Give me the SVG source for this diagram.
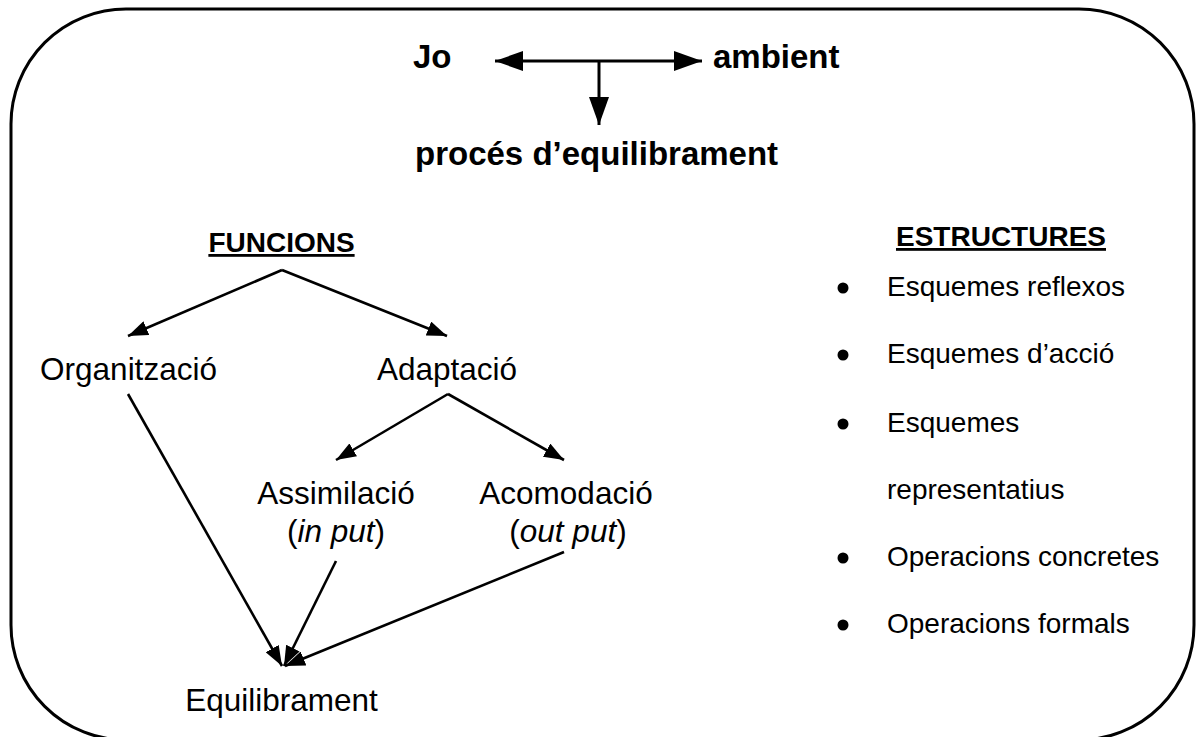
<svg xmlns="http://www.w3.org/2000/svg" width="1196" height="737" viewBox="0 0 1196 737">
<style>
.b{font-family:"Liberation Sans",Arial,sans-serif;font-weight:bold;fill:#000}
.r{font-family:"Liberation Sans",Arial,sans-serif;fill:#000}
.c{stroke:#000;fill:none}
</style>
<defs>
<marker id="big" markerUnits="userSpaceOnUse" viewBox="0 0 28 20" markerWidth="28" markerHeight="20" refX="28" refY="10" orient="auto">
<path d="M0,0 L28,10 L0,20 Z" fill="#000"/>
</marker>
<marker id="sm" markerUnits="userSpaceOnUse" viewBox="0 0 20 15" markerWidth="20" markerHeight="15" refX="20" refY="7.5" orient="auto">
<path d="M0,0 L20,7.5 L0,15 Z" fill="#000"/>
</marker>
</defs>
<rect width="1196" height="737" fill="#fff"/>
<rect id="frame" x="11" y="9" width="1183" height="731" rx="115" ry="115" fill="none" stroke="#000" stroke-width="3"/>
<g id="jo"><text class="b" x="413" y="68" font-size="33">Jo</text></g>
<g id="ambient"><text class="b" x="713" y="68" font-size="33">ambient</text></g>
<g id="proces"><text class="b" x="415" y="165" font-size="33">procés d’equilibrament</text></g>
<g id="funcions"><text class="b" x="281.5" y="252" font-size="28" text-anchor="middle" text-decoration="underline">FUNCIONS</text></g>
<g id="organitzacio"><text class="r" x="128.5" y="380" font-size="31.5" text-anchor="middle">Organització</text></g>
<g id="adaptacio"><text class="r" x="447" y="380" font-size="31.5" text-anchor="middle">Adaptació</text></g>
<g id="assimilacio"><text class="r" x="336" y="504" font-size="31.5" text-anchor="middle">Assimilació</text><text class="r" x="336" y="542" font-size="31.5" text-anchor="middle">(<tspan font-style="italic">in put</tspan>)</text></g>
<g id="acomodacio"><text class="r" x="566" y="504" font-size="31.5" text-anchor="middle">Acomodació</text><text class="r" x="568" y="542" font-size="31.5" text-anchor="middle">(<tspan font-style="italic">out put</tspan>)</text></g>
<g id="equilibrament"><text class="r" x="281.5" y="711" font-size="31.5" text-anchor="middle">Equilibrament</text></g>
<g id="estructures">
<text class="b" x="1001" y="246" font-size="28" text-anchor="middle" text-decoration="underline">ESTRUCTURES</text>
<circle cx="843" cy="288" r="5.5"/><text class="r" x="887" y="296" font-size="28">Esquemes reflexos</text>
<circle cx="843" cy="355" r="5.5"/><text class="r" x="887" y="363" font-size="28">Esquemes d’acció</text>
<circle cx="843" cy="424" r="5.5"/><text class="r" x="887" y="432" font-size="28">Esquemes</text>
<text class="r" x="887" y="499" font-size="28">representatius</text>
<circle cx="843" cy="558" r="5.5"/><text class="r" x="887" y="566" font-size="28">Operacions concretes</text>
<circle cx="843" cy="625" r="5.5"/><text class="r" x="887" y="633" font-size="28">Operacions formals</text>
</g>
<g id="connectors">
<line class="c" x1="599" y1="61" x2="495" y2="61" stroke-width="3" marker-end="url(#big)"/>
<line class="c" x1="599" y1="61" x2="702" y2="61" stroke-width="3" marker-end="url(#big)"/>
<line class="c" x1="599" y1="61" x2="599" y2="125" stroke-width="3" marker-end="url(#big)"/>
<line class="c" x1="282" y1="270" x2="128" y2="336" stroke-width="2.6" marker-end="url(#sm)"/>
<line class="c" x1="282" y1="270" x2="447" y2="336" stroke-width="2.6" marker-end="url(#sm)"/>
<line class="c" x1="448" y1="394" x2="336" y2="460" stroke-width="2.6" marker-end="url(#sm)"/>
<line class="c" x1="448" y1="394" x2="564" y2="460" stroke-width="2.6" marker-end="url(#sm)"/>
<line class="c" x1="128" y1="394" x2="282" y2="666" stroke-width="2.6" marker-end="url(#sm)"/>
<line class="c" x1="336" y1="561" x2="284" y2="666" stroke-width="2.6" marker-end="url(#sm)"/>
<line class="c" x1="564" y1="552" x2="285" y2="666" stroke-width="2.6" marker-end="url(#sm)"/>
</g>
</svg>
